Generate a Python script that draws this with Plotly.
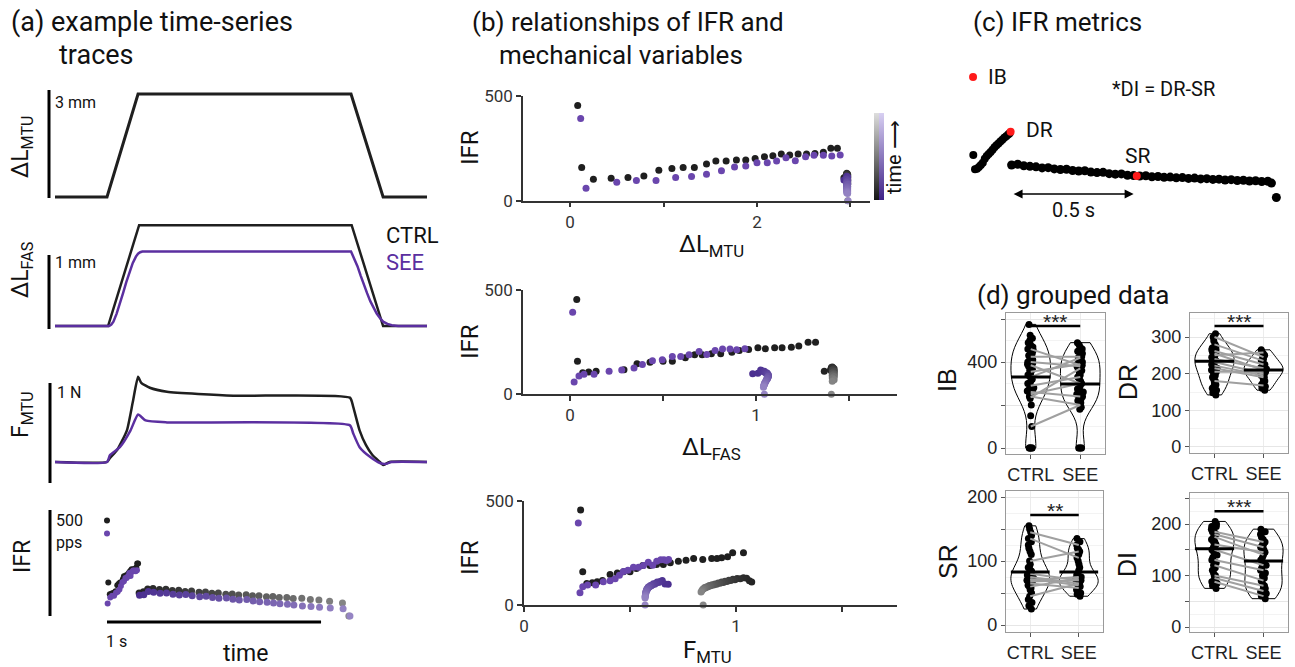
import plotly.graph_objects as go

W, H = 1295, 667
FONT = "Roboto"
BLACK = "#1f1f1f"
PURPLE_LINE = "#5b2fa0"
PURPLE_DOT = "#6a46ad"

# ---------------- (a) time-series traces ----------------
t_mtu = [-0.243, 0.0, 0.145, 1.14, 1.29, 1.495]
l_mtu = [0, 0, 2.86, 2.86, 0, 0]

t_fas_ctrl = [-0.243, 0.005, 0.15, 1.143, 1.29, 1.495]
l_fas_ctrl = [0, 0, 1.38, 1.38, 0, 0]
t_fas_see = [-0.243, 0.01, 0.02, 0.03, 0.045, 0.06, 0.075, 0.09, 0.105, 0.12, 0.135, 0.145, 0.155, 0.165, 1.14,
             1.155, 1.17, 1.185, 1.20, 1.215, 1.23, 1.245, 1.26, 1.275, 1.29, 1.31, 1.33, 1.36, 1.495]
l_fas_see = [0, 0, 0.02, 0.06, 0.17, 0.30, 0.45, 0.60, 0.74, 0.86, 0.95, 0.99, 1.01, 1.02, 1.02,
             0.93, 0.82, 0.69, 0.56, 0.45, 0.34, 0.25, 0.17, 0.11, 0.06, 0.03, 0.01, 0.0, 0]

t_f_ctrl = [-0.243, 0.0, 0.014, 0.047, 0.093, 0.12, 0.145, 0.16, 0.2, 0.28, 0.59, 1.135, 1.15, 1.18, 1.21, 1.24, 1.275, 1.29, 1.32, 1.495]
f_ctrl = [0.22, 0.22, 0.26, 0.34, 0.54, 0.82, 1.08, 1.02, 0.97, 0.93, 0.89, 0.87, 0.78, 0.54, 0.39, 0.29, 0.22, 0.19, 0.22, 0.22]
t_f_see = [-0.243, 0.0, 0.014, 0.06, 0.11, 0.145, 0.18, 0.28, 1.135, 1.15, 1.18, 1.23, 1.275, 1.30, 1.33, 1.495]
f_see = [0.22, 0.22, 0.29, 0.37, 0.54, 0.70, 0.64, 0.62, 0.59, 0.51, 0.37, 0.27, 0.21, 0.20, 0.22, 0.22]

# IFR, ramp phase (CTRL)
ramp_t_ctrl = [0.0, 0.006, 0.013, 0.022, 0.031, 0.040, 0.048, 0.055, 0.061, 0.067, 0.074, 0.079, 0.085,
               0.090, 0.095, 0.100, 0.105, 0.110, 0.115, 0.119, 0.124, 0.128, 0.133, 0.137, 0.141, 0.145]
ramp_ifr_ctrl = [455, 159, 103, 107, 111, 118, 146, 154, 159, 159, 175, 189, 189,
                 194, 194, 202, 210, 215, 223, 218, 223, 223, 226, 231, 250, 250]
ramp_mtu_ctrl = [0.082, 0.125, 0.25, 0.44, 0.62, 0.79, 0.95, 1.09, 1.21, 1.33, 1.46, 1.56, 1.67,
                 1.78, 1.88, 1.98, 2.08, 2.17, 2.26, 2.35, 2.44, 2.53, 2.62, 2.71, 2.79, 2.86]
ramp_fas_ctrl = [0.036, 0.04, 0.068, 0.10, 0.14, 0.29, 0.36, 0.43, 0.50, 0.55, 0.62, 0.67, 0.71,
                 0.76, 0.81, 0.87, 0.91, 0.96, 1.01, 1.05, 1.10, 1.14, 1.19, 1.23, 1.28, 1.32]
ramp_f_ctrl = [0.267, 0.277, 0.296, 0.322, 0.345, 0.37, 0.406, 0.44, 0.469, 0.50, 0.53, 0.56, 0.594,
               0.625, 0.657, 0.69, 0.728, 0.764, 0.80, 0.843, 0.885, 0.91, 0.932, 0.96, 0.984, 1.035]

# IFR, ramp phase (SEE)
ramp_t_see = [0.0, 0.003, 0.015, 0.024, 0.033, 0.042, 0.050, 0.058, 0.065, 0.072, 0.079,
              0.086, 0.092, 0.098, 0.104, 0.110, 0.116, 0.122, 0.128, 0.134, 0.140]
ramp_ifr_see = [393, 59, 88, 96, 96, 111, 116, 126, 143, 161, 166,
                181, 181, 189, 205, 191, 210, 217, 217, 213, 218]
ramp_mtu_see = [0.114, 0.171, 0.50, 0.71, 0.92, 1.13, 1.30, 1.46, 1.62, 1.76, 1.88,
                2.00, 2.11, 2.21, 2.31, 2.41, 2.52, 2.61, 2.71, 2.80, 2.89]
ramp_fas_see = [0.014, 0.022, 0.048, 0.075, 0.129, 0.21, 0.278, 0.344, 0.389, 0.443, 0.496,
                0.55, 0.595, 0.64, 0.694, 0.735, 0.78, 0.82, 0.86, 0.896, 0.94]
ramp_f_see = [0.256, 0.264, 0.277, 0.30, 0.338, 0.374, 0.406, 0.43, 0.45, 0.469, 0.49,
              0.516, 0.54, 0.563, 0.586, 0.607, 0.626, 0.645, 0.66, 0.672, 0.682]

# IFR, hold phase (CTRL)
hold_t_ctrl = [0.150, 0.170, 0.190, 0.215, 0.245, 0.275, 0.305, 0.335, 0.365, 0.395, 0.43, 0.46, 0.49, 0.52, 0.555,
               0.585, 0.615, 0.65, 0.68, 0.71, 0.745, 0.775, 0.805, 0.84, 0.87, 0.91, 0.95, 0.99, 1.04, 1.10, 1.13]
hold_ifr_ctrl = [110, 116, 128, 131, 126, 127, 121, 123, 117, 119, 113, 114, 108, 110, 104,
                 105, 100, 101, 96, 97, 92, 93, 88, 88, 83, 84, 78, 76, 70, 62, 0]
hold_mtu_ctrl = [2.93, 2.95, 2.96, 2.96, 2.97, 2.96, 2.97, 2.96, 2.97, 2.96, 2.97, 2.96, 2.97, 2.96, 2.97,
                 2.96, 2.97, 2.96, 2.97, 2.96, 2.97, 2.96, 2.97, 2.96, 2.97, 2.96, 2.97, 2.96, 2.97, 2.96, 2.97]
hold_fas_ctrl = [1.367, 1.40, 1.405, 1.41, 1.415, 1.41, 1.415, 1.42, 1.41, 1.415, 1.42, 1.41, 1.415, 1.42, 1.41,
                 1.415, 1.42, 1.41, 1.415, 1.42, 1.41, 1.415, 1.42, 1.41, 1.415, 1.42, 1.41, 1.415, 1.42, 1.41, 1.405]
hold_f_ctrl = [1.074, 1.063, 1.05, 1.035, 1.02, 1.005, 0.995, 0.985, 0.975, 0.966, 0.957, 0.948, 0.94, 0.932, 0.924,
               0.916, 0.908, 0.901, 0.894, 0.887, 0.88, 0.874, 0.868, 0.862, 0.857, 0.852, 0.847, 0.843, 0.839, 0.835, 0.845]

# IFR, hold phase (SEE)
hold_t_see = [0.152, 0.172, 0.193, 0.218, 0.248, 0.278, 0.308, 0.338, 0.368, 0.398, 0.433, 0.463, 0.493, 0.523, 0.558,
              0.588, 0.618, 0.653, 0.683, 0.713, 0.748, 0.778, 0.808, 0.843, 0.873, 0.913, 0.953, 0.993, 1.043, 1.103, 1.135]
hold_ifr_see = [99, 101, 117, 113, 108, 110, 104, 100, 102, 96, 92, 94, 88, 85, 86,
                80, 76, 78, 72, 68, 66, 62, 58, 56, 52, 48, 45, 42, 38, 34, 0]
hold_mtu_see = [2.93, 2.95, 2.96, 2.97, 2.96, 2.97, 2.96, 2.97, 2.96, 2.97, 2.96, 2.97, 2.96, 2.97, 2.96,
                2.97, 2.96, 2.97, 2.96, 2.97, 2.96, 2.97, 2.96, 2.97, 2.96, 2.97, 2.96, 2.97, 2.96, 2.97, 2.975]
hold_fas_see = [0.982, 1.01, 1.025, 1.03, 1.04, 1.045, 1.05, 1.055, 1.06, 1.062, 1.065, 1.066, 1.066, 1.066, 1.065,
                1.064, 1.062, 1.06, 1.058, 1.056, 1.054, 1.052, 1.05, 1.048, 1.046, 1.045, 1.043, 1.042, 1.041, 1.04, 1.045]
hold_f_see = [0.68, 0.665, 0.652, 0.642, 0.635, 0.628, 0.622, 0.616, 0.61, 0.605, 0.60, 0.596, 0.592, 0.588, 0.586,
              0.584, 0.582, 0.58, 0.578, 0.577, 0.576, 0.575, 0.574, 0.574, 0.573, 0.573, 0.572, 0.572, 0.571, 0.571, 0.571]

# ---------------- (c) IFR metrics example ----------------
c_ramp_t = [-0.007, 0.0, 0.008, 0.016, 0.024, 0.032, 0.040, 0.048, 0.056, 0.064, 0.072, 0.080, 0.088, 0.096,
            0.104, 0.112, 0.120, 0.128, 0.136, 0.142]
c_ramp_ifr = [162, 108, 110, 116, 124, 133, 148, 158, 166, 174, 182, 192, 199, 206, 214, 220, 228, 234, 240, 245]
c_hold_t = [0.15, 0.175, 0.2, 0.225, 0.25, 0.275, 0.3, 0.325, 0.35, 0.375, 0.4, 0.425, 0.45, 0.475, 0.5,
            0.525, 0.55, 0.575, 0.6, 0.625, 0.65, 0.675, 0.7, 0.725, 0.75, 0.775, 0.8, 0.825, 0.85, 0.875,
            0.9, 0.925, 0.95, 0.975, 1.0, 1.025, 1.05, 1.075, 1.1, 1.125, 1.15, 1.175, 1.2, 1.215, 1.235]
c_hold_ifr = [124, 127, 121, 119, 117, 113, 114, 109, 107, 108, 103, 101, 102, 97, 95,
              96, 91, 89, 90, 85, 84, 82, 83, 79, 80, 77, 78, 75, 76, 73,
              74, 71, 72, 69, 70, 67, 68, 65, 66, 63, 64, 61, 62, 55, 0]
metric_names = ["IB", "DR", "SR"]
metric_t = [-0.008, 0.146, 0.663]
metric_ifr = [460, 251, 82]

# ---------------- (d) grouped data ----------------
groups = ["CTRL", "SEE"]
ib_ctrl = [0, 0, 0, 0, 0, 100, 150, 200, 230, 240, 250, 260, 270, 280, 290, 300, 310, 320, 330, 340, 350, 360,
           370, 380, 390, 400, 410, 420, 430, 440, 450, 460, 470, 480, 490, 500, 510, 525, 575, 245, 265, 300,
           335, 365, 395, 425, 455, 485]
ib_see = [0, 0, 0, 0, 180, 190, 200, 210, 220, 230, 240, 250, 260, 270, 280, 290, 300, 310, 320, 330, 340, 350,
          360, 370, 380, 390, 400, 410, 420, 430, 440, 450, 460, 470, 480, 490, 215, 235, 255, 275, 365, 385, 405, 425]
dr_ctrl = [142, 148, 155, 160, 165, 170, 175, 180, 185, 190, 195, 200, 205, 210, 215, 220, 225, 230, 235, 240,
           245, 250, 255, 260, 265, 270, 275, 280, 290, 300, 309, 215, 225, 235, 245, 255, 265]
dr_see = [155, 160, 165, 170, 175, 180, 185, 190, 195, 200, 203, 206, 210, 213, 216, 220, 223, 226, 230, 235,
          240, 245, 250, 255, 260, 265, 195, 205, 215, 225]
sr_ctrl = [25, 30, 35, 40, 45, 50, 55, 58, 60, 62, 65, 68, 70, 72, 75, 78, 80, 82, 85, 88, 90, 95, 100, 110,
           115, 120, 125, 130, 135, 140, 145, 150, 155, 66, 74, 84]
sr_see = [45, 48, 50, 55, 58, 60, 62, 64, 66, 68, 70, 72, 74, 76, 78, 80, 85, 90, 95, 100, 105, 110, 115, 120,
          125, 130, 135, 65, 70, 75, 112, 118]
di_ctrl = [75, 80, 85, 90, 95, 100, 105, 110, 115, 120, 125, 130, 135, 140, 145, 150, 155, 160, 165, 170, 175,
           180, 185, 190, 195, 200, 205, 155, 165, 175, 185, 195, 88, 98]
di_see = [55, 60, 65, 70, 75, 80, 85, 90, 95, 100, 105, 110, 115, 120, 125, 130, 135, 140, 145, 150, 155, 160,
          165, 170, 175, 180, 185, 190, 68, 78, 150, 160]

pair_ib_ctrl = [460, 425, 400, 385, 355, 330, 290, 260, 250, 240, 235, 100]
pair_ib_see = [385, 425, 380, 300, 390, 420, 330, 240, 300, 200, 370, 200]
pair_dr_ctrl = [300, 280, 262, 255, 250, 240, 232, 222, 215, 205, 180]
pair_dr_see = [245, 235, 225, 210, 258, 215, 200, 195, 190, 205, 168]
pair_sr_ctrl = [145, 135, 100, 80, 75, 72, 70, 68, 65, 60, 45]
pair_sr_see = [125, 105, 115, 70, 65, 62, 75, 70, 58, 73, 65]
pair_di_ctrl = [185, 180, 175, 160, 150, 130, 120, 100, 95, 88]
pair_di_see = [165, 155, 140, 145, 120, 110, 90, 80, 70, 60]

mean_ctrl = [330, 234, 83, 152]
mean_see = [298, 210, 83, 128]
sig_level = [567, 330, 172, 225]
sig_text = ["***", "***", "**", "***"]


# ---------------- helpers ----------------
def xd(a, b):
    return [a / W, b / W]


def yd(top, bottom):
    return [1 - bottom / H, 1 - top / H]


def px(x):
    return x / W


def py(y):
    return 1 - y / H


fig = go.Figure()
annotations = []
shapes = []


def ann(text, x, y, size=20, xanchor="left", yanchor="middle", color="#111", angle=0, family=FONT, **kw):
    d = dict(text=text, x=px(x), y=py(y), xref="paper", yref="paper", showarrow=False,
             xanchor=xanchor, yanchor=yanchor, textangle=angle,
             font=dict(family=family, size=size, color=color))
    d.update(kw)
    annotations.append(d)


hidden = dict(visible=False, showgrid=False, zeroline=False, fixedrange=True)
layout_axes = {}

# (a) axes
a_x = dict(domain=xd(55, 427), range=[-0.243, 1.495], **hidden)
layout_axes["xaxis"] = dict(a_x, anchor="y")
layout_axes["yaxis"] = dict(domain=yd(86, 202), range=[-0.139, 3.083], anchor="x", **hidden)
layout_axes["xaxis2"] = dict(a_x, anchor="y2")
layout_axes["yaxis2"] = dict(domain=yd(218, 332), range=[-0.082, 1.479], anchor="x2", **hidden)
layout_axes["xaxis3"] = dict(a_x, anchor="y3")
layout_axes["yaxis3"] = dict(domain=yd(372, 488), range=[-0.0426, 1.129], anchor="x3", **hidden)
layout_axes["xaxis4"] = dict(a_x, anchor="y4")
layout_axes["yaxis4"] = dict(domain=yd(505, 630), range=[-66.7, 528.6], anchor="x4", **hidden)

fig.add_trace(go.Scatter(x=t_mtu, y=l_mtu, mode="lines", line=dict(color=BLACK, width=3), xaxis="x", yaxis="y"))
fig.add_trace(go.Scatter(x=t_fas_ctrl, y=l_fas_ctrl, mode="lines", line=dict(color=BLACK, width=2.5), xaxis="x2", yaxis="y2"))
fig.add_trace(go.Scatter(x=t_fas_see, y=l_fas_see, mode="lines", line=dict(color=PURPLE_LINE, width=2.5), xaxis="x2", yaxis="y2"))
fig.add_trace(go.Scatter(x=t_f_ctrl, y=f_ctrl, mode="lines", line=dict(color=BLACK, width=2.5, shape="spline", smoothing=0.5), xaxis="x3", yaxis="y3"))
fig.add_trace(go.Scatter(x=t_f_see, y=f_see, mode="lines", line=dict(color=PURPLE_LINE, width=2.5, shape="spline", smoothing=0.5), xaxis="x3", yaxis="y3"))

GRAY_SCALE = [[0, "#151515"], [1, "#dedede"]]
PURP_SCALE = [[0, "#3f2288"], [1, "#d8d0f2"]]


def hold_marker(t, scale, size, cb=None):
    m = dict(color=t, colorscale=scale, cmin=0, cmax=2.0, size=size, line=dict(width=0))
    if cb is not None:
        m["showscale"] = True
        m["colorbar"] = cb
    return m


# (a) IFR dots
fig.add_trace(go.Scatter(x=ramp_t_ctrl, y=ramp_ifr_ctrl, mode="markers", marker=dict(color=BLACK, size=6), xaxis="x4", yaxis="y4", cliponaxis=False))
fig.add_trace(go.Scatter(x=hold_t_ctrl, y=hold_ifr_ctrl, mode="markers", marker=hold_marker(hold_t_ctrl, GRAY_SCALE, 7), xaxis="x4", yaxis="y4", cliponaxis=False))
fig.add_trace(go.Scatter(x=ramp_t_see, y=ramp_ifr_see, mode="markers", marker=dict(color=PURPLE_DOT, size=6), xaxis="x4", yaxis="y4", cliponaxis=False))
fig.add_trace(go.Scatter(x=hold_t_see, y=hold_ifr_see, mode="markers", marker=hold_marker(hold_t_see, PURP_SCALE, 7), xaxis="x4", yaxis="y4", cliponaxis=False))

# scale bars for (a)
for x0, y0, y1 in [(49, 90, 198), (49, 255, 329), (50, 383, 483), (50, 510, 616)]:
    shapes.append(dict(type="line", xref="paper", yref="paper", x0=px(x0), x1=px(x0), y0=py(y0), y1=py(y1),
                       line=dict(color="black", width=3)))
shapes.append(dict(type="line", xref="x4", yref="paper", x0=0, x1=1, y0=py(622), y1=py(622),
                   line=dict(color="black", width=3)))

ann("(a) example time-series", 9, 22, size=27)
ann("traces", 57, 55, size=27)
ann("ΔL<sub>MTU</sub>", 22, 147, size=23, xanchor="center", angle=-90)
ann("ΔL<sub>FAS</sub>", 22, 270, size=23, xanchor="center", angle=-90)
ann("F<sub>MTU</sub>", 22, 415, size=23, xanchor="center", angle=-90)
ann("IFR", 22, 557, size=23, xanchor="center", angle=-90)
ann("3 mm", 53, 102, size=16)
ann("1 mm", 53, 263, size=16)
ann("1 N", 55, 392, size=16)
ann("500", 54, 520, size=16)
ann("pps", 54, 542, size=16)
ann("1 s", 104, 641, size=16)
ann("time", 246, 653, size=23, xanchor="center")
ann("CTRL", 384, 236, size=22, color="#111")
ann("SEE", 384, 263, size=22, color=PURPLE_LINE)

# (b) axes
b_ax = dict(showline=True, linecolor="#333", linewidth=1.5, ticks="outside", ticklen=5, tickwidth=1.5,
            tickcolor="#333", showgrid=False, zeroline=False, fixedrange=True,
            tickfont=dict(family=FONT, size=17, color="#333"))
layout_axes["xaxis5"] = dict(b_ax, domain=xd(523, 870), range=[-0.503, 3.209], tickvals=[0, 1, 2, 3],
                             ticktext=["0", "", "2", ""], anchor="y5")
layout_axes["yaxis5"] = dict(b_ax, domain=yd(96, 200.7), range=[0, 500], tickvals=[0, 500], anchor="x5")
layout_axes["xaxis6"] = dict(b_ax, domain=xd(523, 897), range=[-0.253, 1.758], tickvals=[0, 0.5, 1, 1.5],
                             ticktext=["0", "", "1", ""], anchor="y6")
layout_axes["yaxis6"] = dict(b_ax, domain=yd(290, 394.3), range=[0, 500], tickvals=[0, 500], anchor="x6")
layout_axes["xaxis7"] = dict(b_ax, domain=xd(524, 897), range=[0, 1.759], tickvals=[0, 0.5, 1, 1.5],
                             ticktext=["0", "", "1", ""], anchor="y7")
layout_axes["yaxis7"] = dict(b_ax, domain=yd(500.7, 605), range=[0, 500], tickvals=[0, 500], anchor="x7")

cb_common = dict(lenmode="pixels", len=87, thicknessmode="pixels", thickness=5, outlinewidth=0,
                 showticklabels=False, ticks="", xanchor="left", yanchor="bottom", y=py(200), xpad=0, ypad=0)
for xa, ya, xs_r_k, xs_h_k, xs_r_s, xs_h_s, with_cb in [
    ("x5", "y5", ramp_mtu_ctrl, hold_mtu_ctrl, ramp_mtu_see, hold_mtu_see, True),
    ("x6", "y6", ramp_fas_ctrl, hold_fas_ctrl, ramp_fas_see, hold_fas_see, False),
    ("x7", "y7", ramp_f_ctrl, hold_f_ctrl, ramp_f_see, hold_f_see, False),
]:
    fig.add_trace(go.Scatter(x=xs_r_k, y=ramp_ifr_ctrl, mode="markers", marker=dict(color=BLACK, size=7),
                             xaxis=xa, yaxis=ya, cliponaxis=False))
    fig.add_trace(go.Scatter(x=xs_h_k, y=hold_ifr_ctrl, mode="markers",
                             marker=hold_marker(hold_t_ctrl, GRAY_SCALE, 7, dict(cb_common, x=px(874)) if with_cb else None),
                             xaxis=xa, yaxis=ya, cliponaxis=False))
    fig.add_trace(go.Scatter(x=xs_r_s, y=ramp_ifr_see, mode="markers", marker=dict(color=PURPLE_DOT, size=7),
                             xaxis=xa, yaxis=ya, cliponaxis=False))
    fig.add_trace(go.Scatter(x=xs_h_s, y=hold_ifr_see, mode="markers",
                             marker=hold_marker(hold_t_see, PURP_SCALE, 7, dict(cb_common, x=px(879)) if with_cb else None),
                             xaxis=xa, yaxis=ya, cliponaxis=False))

ann("(b) relationships of IFR and", 470, 22, size=26)
ann("mechanical variables", 497, 55, size=26)
for yy in [148, 342, 558]:
    ann("IFR", 470, yy, size=24, xanchor="center", angle=-90)
ann("ΔL<sub>MTU</sub>", 711, 245, size=24, xanchor="center")
ann("ΔL<sub>FAS</sub>", 711, 448, size=24, xanchor="center")
ann("F<sub>MTU</sub>", 708, 651, size=24, xanchor="center")
ann("time ⟶", 894, 157, size=20, xanchor="center", angle=-90)

# (c) axes
layout_axes["xaxis8"] = dict(domain=xd(960, 1290), range=[-0.0615, 1.291], anchor="y8", **hidden)
layout_axes["yaxis8"] = dict(domain=yd(70, 205), range=[-28.6, 486.6], anchor="x8", **hidden)
fig.add_trace(go.Scatter(x=c_ramp_t, y=c_ramp_ifr, mode="markers", marker=dict(color="black", size=8),
                         xaxis="x8", yaxis="y8", cliponaxis=False))
fig.add_trace(go.Scatter(x=c_hold_t, y=c_hold_ifr, mode="markers", marker=dict(color="black", size=9),
                         xaxis="x8", yaxis="y8", cliponaxis=False))
fig.add_trace(go.Scatter(x=metric_t, y=metric_ifr, mode="markers", marker=dict(color="#ff1a1a", size=8),
                         xaxis="x8", yaxis="y8", cliponaxis=False))
annotations.append(dict(x=0.65, y=13, ax=0.152, ay=13, xref="x8", yref="y8", axref="x8", ayref="y8",
                        text="", showarrow=True, arrowhead=2, arrowside="end+start", arrowsize=1.2,
                        arrowwidth=1.5, arrowcolor="black"))
ann("(c) IFR metrics", 971, 22, size=26)
ann("IB", 986, 77, size=21)
ann("DR", 1024, 130, size=21)
ann("SR", 1123, 156, size=21)
ann("*DI = DR-SR", 1110, 89, size=20)
ann("0.5 s", 1073, 210, size=20, xanchor="center")

# (d) axes
ann("(d) grouped data", 975, 295, size=26)
d_font = "Liberation Sans"
d_x = dict(range=[-0.5, 1.5], tickvals=[0, 1], ticktext=groups, showline=True, mirror=True, linecolor="#9a9a9a",
           linewidth=1.2, ticks="outside", ticklen=4, tickcolor="#555", showgrid=True, gridcolor="#ececec",
           zeroline=False, fixedrange=True, tickfont=dict(family=d_font, size=18, color="#222"))
d_y = dict(showline=True, mirror=True, linecolor="#9a9a9a", linewidth=1.2, ticks="outside", ticklen=4,
           tickcolor="#555", showgrid=True, gridcolor="#e6e6e6", zeroline=False, fixedrange=True,
           tickfont=dict(family=d_font, size=18, color="#222"))

d_panels = [
    # name, xbox, ybox, yrange, tickvals, ticktext, minor, ctrl, see, pair_c, pair_s, label pos
    ("IB", (1006, 1105), (313, 454), [-27.9, 628], [0, 200, 400, 600], ["0", "", "400", ""], 100,
     ib_ctrl, ib_see, pair_ib_ctrl, pair_ib_see, (947, 380)),
    ("DR", (1190, 1288), (313, 453), [-16.4, 365.5], [0, 100, 200, 300], ["0", "100", "200", "300"], 50,
     dr_ctrl, dr_see, pair_dr_ctrl, pair_dr_see, (1128, 382)),
    ("SR", (1006, 1103), (491, 632), [-10.9, 209.4], [0, 50, 100, 150, 200], ["0", "", "100", "", "200"], 25,
     sr_ctrl, sr_see, pair_sr_ctrl, pair_sr_see, (948, 562)),
    ("DI", (1190, 1288), (493, 632), [-9.7, 260.2], [0, 50, 100, 150, 200, 250], ["0", "", "100", "", "200", ""], 25,
     di_ctrl, di_see, pair_di_ctrl, pair_di_see, (1127, 565)),
]

for i, (name, xb, yb, yr, tv, tt, minor, dc, ds, pc, ps, lab) in enumerate(d_panels):
    n = 9 + i
    xa, ya = f"x{n}", f"y{n}"
    layout_axes[f"xaxis{n}"] = dict(d_x, domain=xd(*xb), anchor=ya)
    layout_axes[f"yaxis{n}"] = dict(d_y, domain=yd(*yb), range=yr, tickvals=tv, ticktext=tt, anchor=xa,
                                    minor=dict(dtick=minor, showgrid=True, gridcolor="#f3f3f3"))
    for k, vals in enumerate([dc, ds]):
        fig.add_trace(go.Violin(x0=k, y=vals, xaxis=xa, yaxis=ya, points="all", pointpos=0, jitter=0.18,
                                width=0.8, scalemode="width", spanmode="hard",
                                line=dict(color="black", width=1), fillcolor="rgba(0,0,0,0)",
                                marker=dict(color="black", size=7), box_visible=False,
                                meanline_visible=False, showlegend=False))
    for c, s in zip(pc, ps):
        fig.add_trace(go.Scatter(x=[0, 1], y=[c, s], mode="lines", line=dict(color="#a0a0a0", width=2),
                                 xaxis=xa, yaxis=ya))
    fig.add_trace(go.Scatter(x=[-0.4, 0.4], y=[mean_ctrl[i], mean_ctrl[i]], mode="lines",
                             line=dict(color="black", width=3), xaxis=xa, yaxis=ya))
    fig.add_trace(go.Scatter(x=[0.6, 1.4], y=[mean_see[i], mean_see[i]], mode="lines",
                             line=dict(color="black", width=3), xaxis=xa, yaxis=ya))
    fig.add_trace(go.Scatter(x=[0, 1], y=[sig_level[i], sig_level[i]], mode="lines",
                             line=dict(color="black", width=2.5), xaxis=xa, yaxis=ya, cliponaxis=False))
    annotations.append(dict(x=0.5, y=sig_level[i], xref=xa, yref=ya, text=sig_text[i], showarrow=False,
                            yanchor="bottom", yshift=-9, font=dict(family=d_font, size=21, color="#222")))
    ann(name, lab[0], lab[1], size=25, xanchor="center", angle=-90, family=d_font)

fig.update_layout(
    width=W, height=H, margin=dict(l=0, r=0, t=0, b=0, pad=0, autoexpand=False),
    paper_bgcolor="white", plot_bgcolor="white", showlegend=False,
    violinmode="overlay", font=dict(family=FONT, color="#111"),
    annotations=annotations, shapes=shapes, **layout_axes,
)
for tr in fig.data:
    tr.showlegend = False

fig.write_html("out.html", config={"displayModeBar": False},
               post_script="document.body.style.margin='0';document.body.style.padding='0';"
                           "document.body.style.overflow='hidden';")
